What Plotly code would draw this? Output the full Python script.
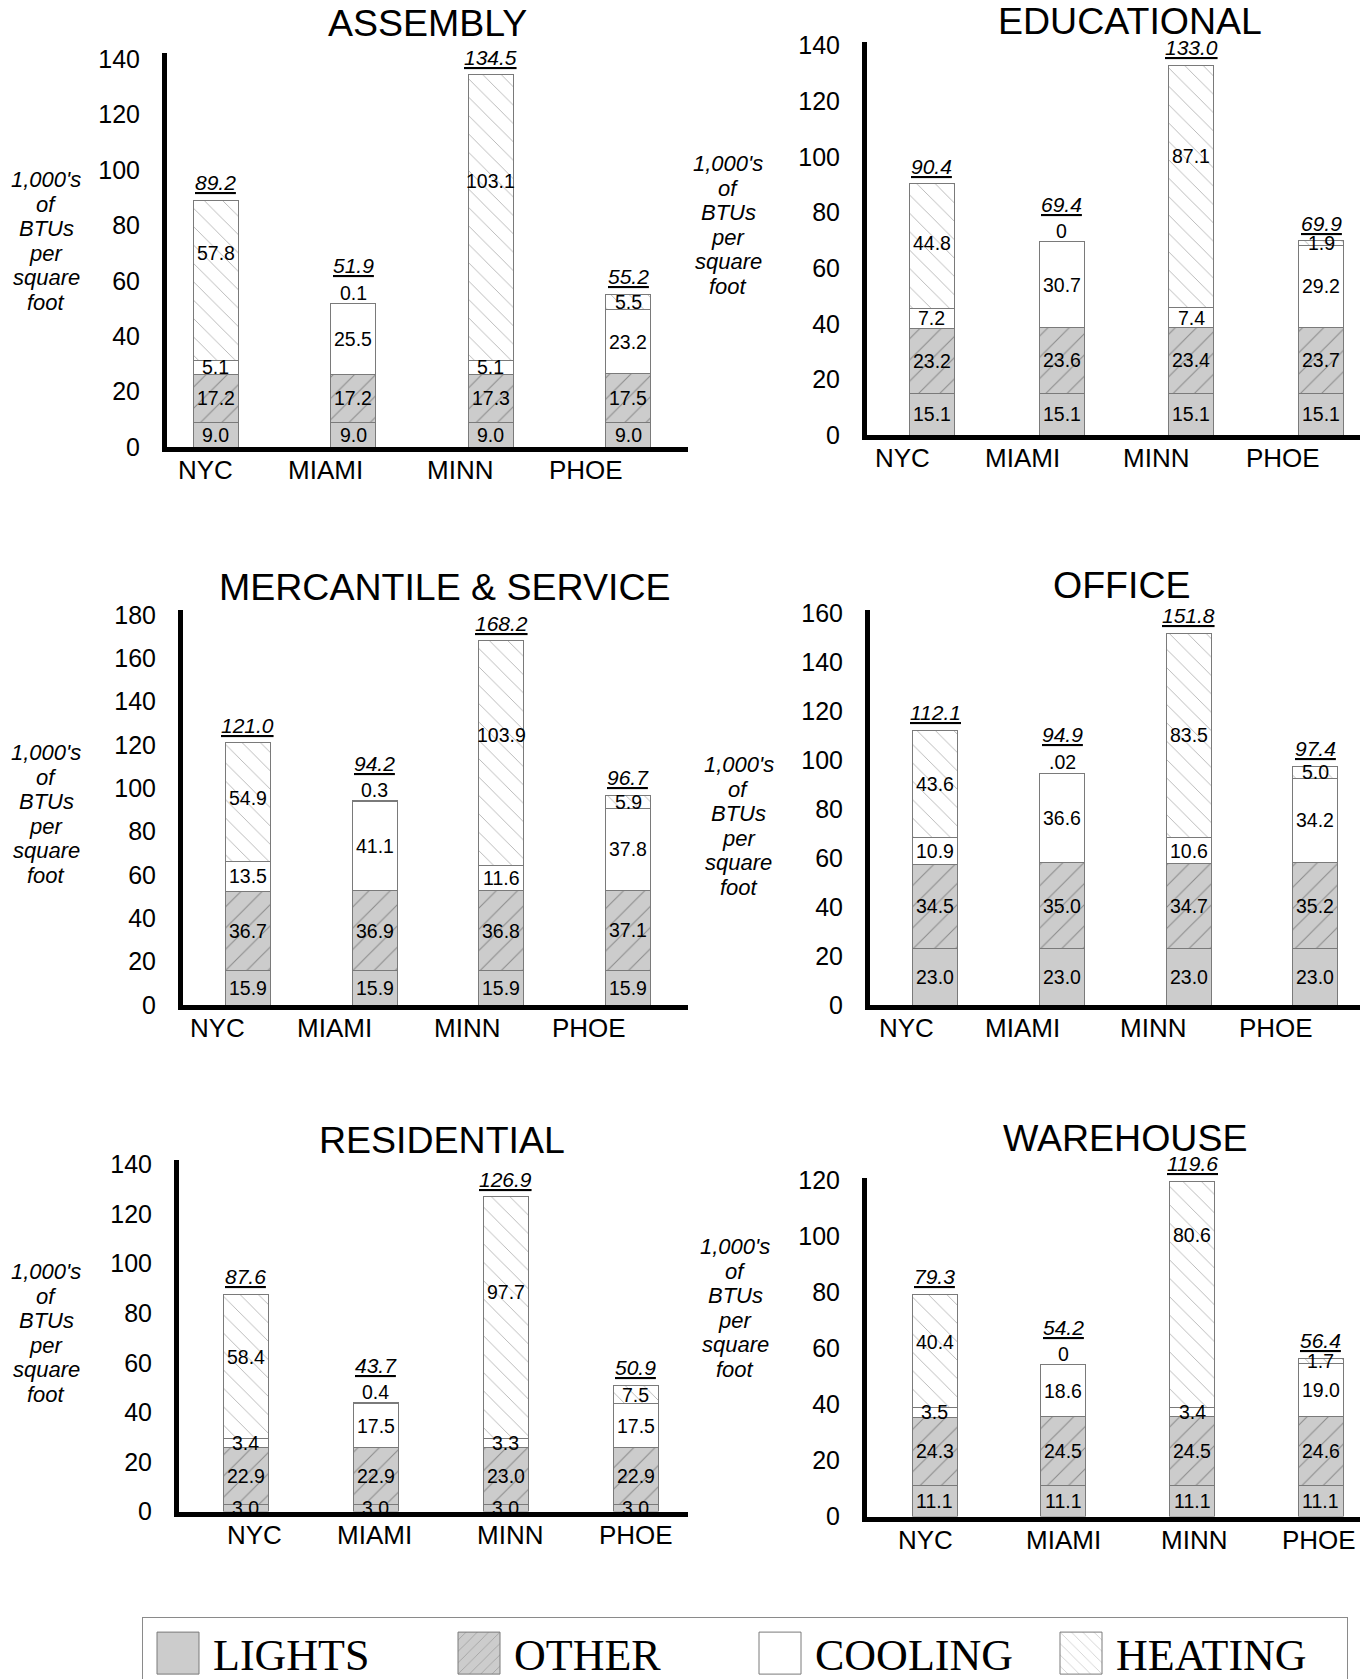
import plotly.graph_objects as go

W, H = 1360, 1679

cities = ["NYC", "MIAMI", "MINN", "PHOE"]
series_names = ["LIGHTS", "OTHER", "COOLING", "HEATING"]

# ---- data (1,000's of BTUs per square foot) ----
assembly_lights = [9.0, 9.0, 9.0, 9.0]
assembly_other = [17.2, 17.2, 17.3, 17.5]
assembly_cooling = [5.1, 25.5, 5.1, 23.2]
assembly_heating = [57.8, 0.1, 103.1, 5.5]
assembly_totals = [89.2, 51.9, 134.5, 55.2]

educational_lights = [15.1, 15.1, 15.1, 15.1]
educational_other = [23.2, 23.6, 23.4, 23.7]
educational_cooling = [7.2, 30.7, 7.4, 29.2]
educational_heating = [44.8, 0, 87.1, 1.9]
educational_totals = [90.4, 69.4, 133.0, 69.9]

mercantile_lights = [15.9, 15.9, 15.9, 15.9]
mercantile_other = [36.7, 36.9, 36.8, 37.1]
mercantile_cooling = [13.5, 41.1, 11.6, 37.8]
mercantile_heating = [54.9, 0.3, 103.9, 5.9]
mercantile_totals = [121.0, 94.2, 168.2, 96.7]

office_lights = [23.0, 23.0, 23.0, 23.0]
office_other = [34.5, 35.0, 34.7, 35.2]
office_cooling = [10.9, 36.6, 10.6, 34.2]
office_heating = [43.6, 0.02, 83.5, 5.0]
office_totals = [112.1, 94.9, 151.8, 97.4]

residential_lights = [3.0, 3.0, 3.0, 3.0]
residential_other = [22.9, 22.9, 23.0, 22.9]
residential_cooling = [3.4, 17.5, 3.3, 17.5]
residential_heating = [58.4, 0.4, 97.7, 7.5]
residential_totals = [87.6, 43.7, 126.9, 50.9]

warehouse_lights = [11.1, 11.1, 11.1, 11.1]
warehouse_other = [24.3, 24.5, 24.5, 24.6]
warehouse_cooling = [3.5, 18.6, 3.4, 19.0]
warehouse_heating = [40.4, 0, 80.6, 1.7]
warehouse_totals = [79.3, 54.2, 119.6, 56.4]

y_title_lines = ["1,000's", "of", "BTUs", "per", "square", "foot"]

# ---- panel layout (pixel positions / shifts are styling only) ----
panels = [
    dict(title="ASSEMBLY",
         series=[assembly_lights, assembly_other, assembly_cooling, assembly_heating],
         totals=assembly_totals,
         xpx=(167, 688), ypx=(53, 447), ymax=142.3, xr=(-0.356, 3.436), bw=0.33,
         lab_dx=[-10, -28, -31, -42], heat_dy=[27, 0, 36, 0],
         title_xy=(427, 23), ylab_xy=(46, 241)),
    dict(title="EDUCATIONAL",
         series=[educational_lights, educational_other, educational_cooling, educational_heating],
         totals=educational_totals,
         xpx=(867, 1360), ypx=(42, 435), ymax=141.3, xr=(-0.501, 3.30), bw=0.347,
         lab_dx=[-29, -39, -35, -38], heat_dy=[3, 0, 30, 0],
         title_xy=(1130, 21), ylab_xy=(728, 225)),
    dict(title="MERCANTILE & SERVICE",
         series=[mercantile_lights, mercantile_other, mercantile_cooling, mercantile_heating],
         totals=mercantile_totals,
         xpx=(183, 688), ypx=(610, 1005), ymax=182.3, xr=(-0.513, 3.473), bw=0.355,
         lab_dx=[-30, -40, -34, -39], heat_dy=[4, 0, 18, 0],
         title_xy=(445, 587), ylab_xy=(46, 814)),
    dict(title="OFFICE",
         series=[office_lights, office_other, office_cooling, office_heating],
         totals=office_totals,
         xpx=(870, 1360), ypx=(610, 1005), ymax=161.2, xr=(-0.517, 3.353), bw=0.355,
         lab_dx=[-29, -40, -36, -39], heat_dy=[0, 0, 0, 0],
         title_xy=(1122, 585), ylab_xy=(739, 826)),
    dict(title="RESIDENTIAL",
         series=[residential_lights, residential_other, residential_cooling, residential_heating],
         totals=residential_totals,
         xpx=(179, 688), ypx=(1160, 1511.5), ymax=141.8, xr=(-0.515, 3.40), bw=0.346,
         lab_dx=[9, -1, 4, 0], heat_dy=[9, 0, 26, 0],
         title_xy=(442, 1140), ylab_xy=(46, 1333)),
    dict(title="WAREHOUSE",
         series=[warehouse_lights, warehouse_other, warehouse_cooling, warehouse_heating],
         totals=warehouse_totals,
         xpx=(867, 1360), ypx=(1178, 1516.5), ymax=120.7, xr=(-0.525, 3.305), bw=0.35,
         lab_dx=[-9, 0, 2, -2], heat_dy=[9, 0, 59, 0],
         title_xy=(1125, 1138), ylab_xy=(735, 1308)),
]

SANS = "Liberation Sans, Arial, sans-serif"
SERIF = "Liberation Serif, Times New Roman, serif"

series_marker = {
    "LIGHTS": dict(color="#cccccc", line=dict(color="#7a7a7a", width=1)),
    "OTHER": dict(color="#cccccc", line=dict(color="#7a7a7a", width=1),
                  pattern=dict(shape="/", fgcolor="#4a4a4a", bgcolor="#cccccc",
                               size=15, solidity=0.07)),
    "COOLING": dict(color="#ffffff", line=dict(color="#7a7a7a", width=1)),
    "HEATING": dict(color="#ffffff", line=dict(color="#7a7a7a", width=1),
                    pattern=dict(shape="\\", fgcolor="#6a6a6a", bgcolor="#ffffff",
                                 size=13, solidity=0.07)),
}


def px_x(p):
    return p / W


def px_y(p):
    return 1 - p / H


def fmt(v):
    if v == 0:
        return "0"
    if v < 0.1:
        return ("%.2f" % v).lstrip("0")
    return "%.1f" % v


fig = go.Figure()
annotations = []

for i, pnl in enumerate(panels):
    n = "" if i == 0 else str(i + 1)
    xa, ya = "x" + n, "y" + n
    for name, vals in zip(series_names, pnl["series"]):
        fig.add_trace(go.Bar(
            x=cities, y=vals, name=name, xaxis=xa, yaxis=ya,
            marker=series_marker[name], width=pnl["bw"],
            showlegend=(i == 0), legendgroup=name, hoverinfo="skip",
        ))

    fig.layout["xaxis" + n] = dict(
        domain=[px_x(pnl["xpx"][0]), px_x(pnl["xpx"][1])],
        anchor=ya, type="category", range=list(pnl["xr"]),
        showline=True, linecolor="black", linewidth=5,
        showticklabels=False, ticks="", showgrid=False, zeroline=False,
        fixedrange=True,
    )
    fig.layout["yaxis" + n] = dict(
        domain=[px_y(pnl["ypx"][1]), px_y(pnl["ypx"][0])],
        anchor=xa, range=[0, pnl["ymax"]], tick0=0, dtick=20,
        showline=True, linecolor="black", linewidth=5,
        ticks="", showgrid=False, zeroline=False,
        tickfont=dict(family=SANS, size=25, color="black"),
        ticklabelstandoff=17, fixedrange=True,
    )

    # title
    annotations.append(dict(
        text=pnl["title"], xref="paper", yref="paper",
        x=px_x(pnl["title_xy"][0]), y=px_y(pnl["title_xy"][1]),
        xanchor="center", yanchor="middle", showarrow=False,
        font=dict(family=SANS, size=37.5, color="black")))
    # y-axis title, one line at a time for tight spacing
    nl = len(y_title_lines)
    for k, line in enumerate(y_title_lines):
        annotations.append(dict(
            text="<i>" + line + "</i>", xref="paper", yref="paper",
            x=px_x(pnl["ylab_xy"][0]),
            y=px_y(pnl["ylab_xy"][1] + (k - (nl - 1) / 2) * 24.6),
            xanchor="center", yanchor="middle", showarrow=False,
            font=dict(family=SANS, size=22, color="black")))
    # category labels
    for city, dx in zip(cities, pnl["lab_dx"]):
        annotations.append(dict(
            text=city, xref=xa, yref=ya, x=city, y=0,
            xanchor="center", yanchor="middle", xshift=dx, yshift=-23,
            showarrow=False, font=dict(family=SANS, size=26, color="black")))
    # segment labels
    for j, city in enumerate(cities):
        base = 0.0
        for name, vals in zip(series_names, pnl["series"]):
            v = vals[j]
            if name == "HEATING" and v < 1:
                y, ysh = base + v, 11
            elif name == "HEATING":
                y, ysh = base + v / 2, pnl["heat_dy"][j]
            else:
                y, ysh = base + v / 2, 0
            annotations.append(dict(
                text=fmt(v), xref=xa, yref=ya, x=city, y=y, yshift=ysh,
                xanchor="center", yanchor="middle", showarrow=False,
                font=dict(family=SANS, size=19.5, color="black")))
            base += v
        tiny = pnl["series"][3][j] < 1
        annotations.append(dict(
            text="<i><u>" + fmt(pnl["totals"][j]) + "</u></i>",
            xref=xa, yref=ya, x=city, y=pnl["totals"][j],
            yshift=4 + (20 if tiny else 0),
            xanchor="center", yanchor="bottom", showarrow=False,
            font=dict(family=SANS, size=21, color="black")))

fig.update_layout(
    width=W, height=H,
    margin=dict(l=0, r=0, t=0, b=0, pad=0, autoexpand=False),
    paper_bgcolor="white", plot_bgcolor="white",
    barmode="stack",
    annotations=annotations,
    showlegend=True,
    legend=dict(
        orientation="h", x=px_x(142), y=px_y(1617), xanchor="left", yanchor="top",
        bordercolor="#8a8a8a", borderwidth=1, bgcolor="white",
        font=dict(family=SERIF, size=44, color="black"),
        itemwidth=60, entrywidth=226, traceorder="normal",
        itemclick=False, itemdoubleclick=False,
    ),
)

post = """
document.body.style.margin = '0';
var gd = document.getElementById('{plot_id}');
function bigSwatches(){
  gd.querySelectorAll('.legend .legendpoints path').forEach(function(p){
    p.setAttribute('d','M21,21H-21V-21H21Z');
  });
}
bigSwatches();
gd.on('plotly_afterplot', bigSwatches);
"""

fig.write_html("out.html", post_script=post, config={"displayModeBar": False})
